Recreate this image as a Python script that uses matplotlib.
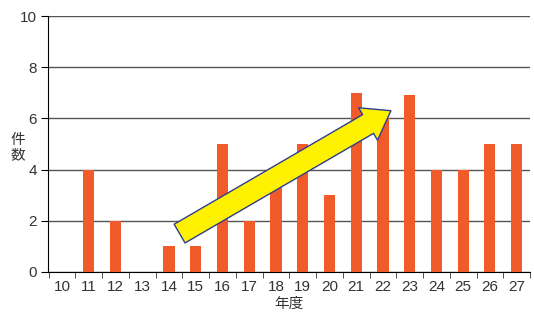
import matplotlib
matplotlib.use("Agg")
import matplotlib.pyplot as plt
from matplotlib.patches import FancyArrowPatch

plt.rcParams['font.family'] = ['Liberation Sans', 'Noto Sans CJK JP']

years = [10, 11, 12, 13, 14, 15, 16, 17, 18, 19, 20, 21, 22, 23, 24, 25, 26, 27]
counts = [0, 4, 2, 0, 1, 1, 5, 2, 4, 5, 3, 7, 6, 6.9, 4, 4, 5, 5]
year_labels = [str(y) for y in years]

bar_color = '#f15a29'
text_color = '#333333'

fig = plt.figure(figsize=(5.34, 3.14), dpi=100)
ax = fig.add_axes([0.0899, 0.1338, 0.9026, 0.8152])

pos = list(range(len(years)))
ax.bar(pos, counts, width=0.42, color=bar_color, zorder=3)

ax.set_xlim(-0.52, len(years) - 0.55)
ax.set_ylim(0, 10)
ax.set_yticks([0, 2, 4, 6, 8, 10])
ax.yaxis.grid(True, color='#555555', linewidth=1.0, zorder=1)
ax.set_xticks(pos)
ax.set_xticklabels(year_labels)
ax.set_xticks([p - 0.5 for p in pos] + [pos[-1] + 0.5], minor=True)
ax.tick_params(axis='x', which='major', length=0, pad=6, labelsize=11, labelcolor=text_color)
ax.tick_params(axis='x', which='minor', length=4, color='#333333', direction='out')
ax.tick_params(axis='y', length=5, labelsize=11, labelcolor=text_color, pad=3)

for s in ['top', 'right']:
    ax.spines[s].set_visible(False)
ax.spines['left'].set_color('black')
ax.spines['bottom'].set_color('black')

ax.set_xlabel('年度', fontsize=10.5, color=text_color, labelpad=2)
fig.text(0.034, 0.53, '件\n数', fontsize=10.5, color=text_color, ha='center', va='center',
         linespacing=1.1)

# trend arrow
arrow = FancyArrowPatch((4.4, 1.5), (12.3, 6.3),
                        arrowstyle='simple,head_length=0.95,head_width=1.35,tail_width=0.78',
                        mutation_scale=20, facecolor='#fff200', edgecolor='#2e3d8f',
                        linewidth=1.0, zorder=5, shrinkA=0, shrinkB=0)
ax.add_patch(arrow)

fig.savefig('out.png', dpi=100)
